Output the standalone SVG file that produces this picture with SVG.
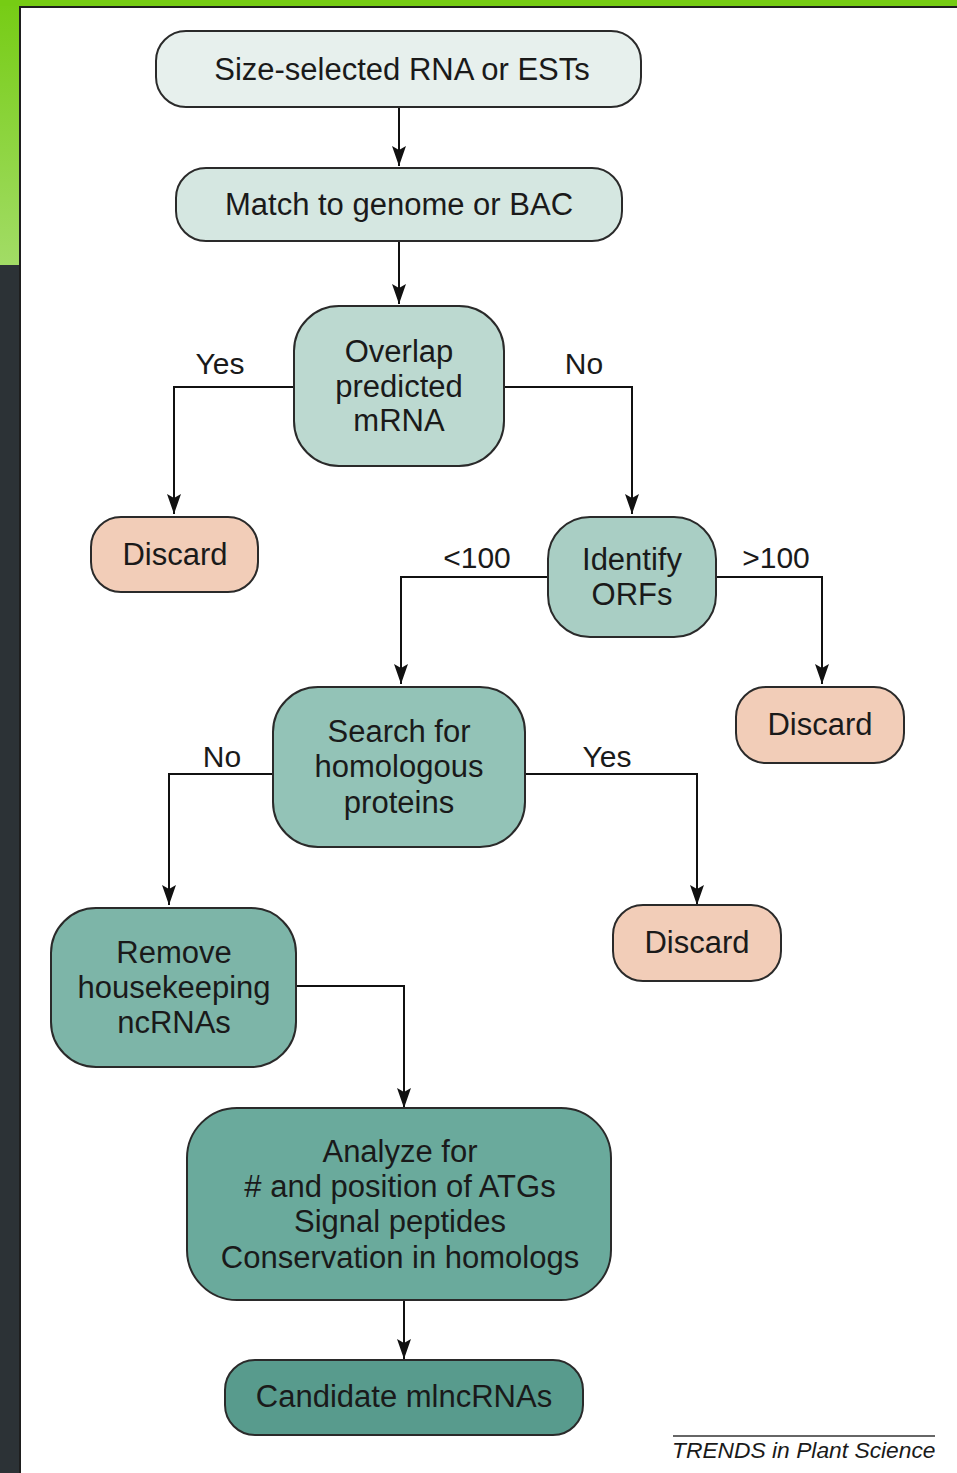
<svg xmlns="http://www.w3.org/2000/svg" width="957" height="1473" viewBox="0 0 957 1473">
<defs>
<linearGradient id="gstrip" x1="0" y1="0" x2="0" y2="1">
<stop offset="0" stop-color="#76cc14"/>
<stop offset="1" stop-color="#a2dc66"/>
</linearGradient>
<marker id="arr" markerUnits="userSpaceOnUse" markerWidth="22" markerHeight="16" refX="20" refY="7" orient="auto">
<path d="M0,0 L20,7 L0,14 L4,7 z" fill="#111"/>
</marker>
</defs>
<style>
.n{stroke:#2a2a2a;stroke-width:2}
.t{font-family:"Liberation Sans",Arial,sans-serif;font-size:31px;fill:#1a1a1a;text-anchor:middle}
.l{font-family:"Liberation Sans",Arial,sans-serif;font-size:30px;fill:#1a1a1a;text-anchor:middle}
.c{fill:none;stroke:#111;stroke-width:2}
</style>
<rect x="0" y="0" width="957" height="1473" fill="#ffffff"/>
<rect x="0" y="0" width="20" height="265" fill="url(#gstrip)"/>
<rect x="0" y="265" width="20" height="1208" fill="#2c3236"/>
<rect x="0" y="0" width="957" height="6" fill="#76cc14"/>
<line x1="20" y1="6" x2="20" y2="1473" stroke="#1e1e1e" stroke-width="2"/>
<line x1="20" y1="7" x2="957" y2="7" stroke="#1e1e1e" stroke-width="2"/>

<g id="connectors">
<line class="c" x1="399" y1="107" x2="399" y2="166" marker-end="url(#arr)"/>
<line class="c" x1="399" y1="241" x2="399" y2="304" marker-end="url(#arr)"/>
<polyline class="c" points="294,387 174,387 174,514" marker-end="url(#arr)"/>
<polyline class="c" points="504,387 632,387 632,514" marker-end="url(#arr)"/>
<polyline class="c" points="548,577 401,577 401,684" marker-end="url(#arr)"/>
<polyline class="c" points="716,577 822,577 822,684" marker-end="url(#arr)"/>
<polyline class="c" points="273,774 169,774 169,905" marker-end="url(#arr)"/>
<polyline class="c" points="525,774 697,774 697,905" marker-end="url(#arr)"/>
<polyline class="c" points="296,986 404,986 404,1108" marker-end="url(#arr)"/>
<line class="c" x1="404" y1="1300" x2="404" y2="1359" marker-end="url(#arr)"/>
<text class="l" x="220" y="374">Yes</text>
<text class="l" x="584" y="374">No</text>
<text class="l" x="477" y="568">&lt;100</text>
<text class="l" x="776" y="568">&gt;100</text>
<text class="l" x="222" y="767">No</text>
<text class="l" x="607" y="767">Yes</text>
</g>

<g id="n1">
<rect class="n" x="156" y="31" width="485" height="76" rx="30" fill="#e7f0ed"/>
<text class="t" x="402" y="80">Size-selected RNA or ESTs</text>
</g>
<g id="n2">
<rect class="n" x="176" y="168" width="446" height="73" rx="30" fill="#d5e7e1"/>
<text class="t" x="399" y="215">Match to genome or BAC</text>
</g>
<g id="n3">
<rect class="n" x="294" y="306" width="210" height="160" rx="45" fill="#bcd9d0"/>
<text class="t" x="399" y="362">Overlap</text>
<text class="t" x="399" y="397">predicted</text>
<text class="t" x="399" y="431">mRNA</text>
</g>
<g id="d1">
<rect class="n" x="91" y="517" width="167" height="75" rx="30" fill="#f2cdb8"/>
<text class="t" x="175" y="565">Discard</text>
</g>
<g id="n4">
<rect class="n" x="548" y="517" width="168" height="120" rx="42" fill="#a9cec4"/>
<text class="t" x="632" y="570">Identify</text>
<text class="t" x="632" y="605">ORFs</text>
</g>
<g id="d2">
<rect class="n" x="736" y="687" width="168" height="76" rx="30" fill="#f2cdb8"/>
<text class="t" x="820" y="735">Discard</text>
</g>
<g id="n5">
<rect class="n" x="273" y="687" width="252" height="160" rx="45" fill="#93c3b7"/>
<text class="t" x="399" y="742">Search for</text>
<text class="t" x="399" y="777">homologous</text>
<text class="t" x="399" y="813">proteins</text>
</g>
<g id="d3">
<rect class="n" x="613" y="905" width="168" height="76" rx="30" fill="#f2cdb8"/>
<text class="t" x="697" y="953">Discard</text>
</g>
<g id="n6">
<rect class="n" x="51" y="908" width="245" height="159" rx="45" fill="#7db5a8"/>
<text class="t" x="174" y="963">Remove</text>
<text class="t" x="174" y="998">housekeeping</text>
<text class="t" x="174" y="1033">ncRNAs</text>
</g>
<g id="n7">
<rect class="n" x="187" y="1108" width="424" height="192" rx="50" fill="#6aaa9c"/>
<text class="t" x="400" y="1162">Analyze for</text>
<text class="t" x="400" y="1197"># and position of ATGs</text>
<text class="t" x="400" y="1232">Signal peptides</text>
<text class="t" x="400" y="1268">Conservation in homologs</text>
</g>
<g id="n8">
<rect class="n" x="225" y="1360" width="358" height="75" rx="30" fill="#589b8d"/>
<text class="t" x="404" y="1407">Candidate mlncRNAs</text>
</g>

<g id="credit">
<line x1="673" y1="1436" x2="935" y2="1436" stroke="#333" stroke-width="1.5"/>
<text x="672" y="1458" font-family="Liberation Sans, Arial, sans-serif" font-size="22.8" font-style="italic" fill="#1a1a1a">TRENDS in Plant Science</text>
</g>
</svg>
